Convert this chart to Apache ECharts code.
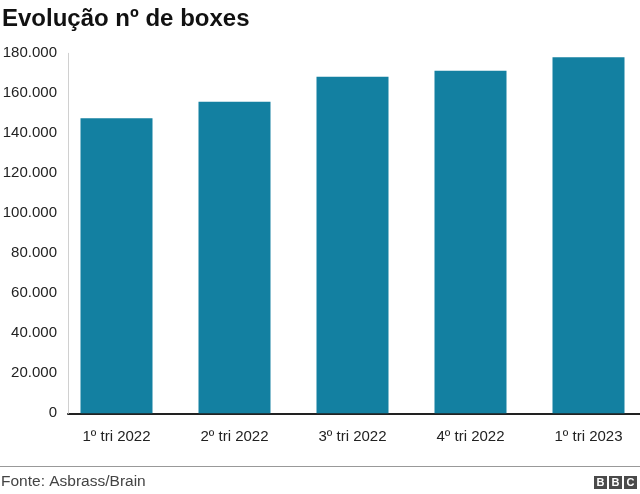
<!DOCTYPE html>
<html>
<head>
<meta charset="utf-8">
<script src="https://cdn.jsdelivr.net/npm/echarts@6/dist/echarts.min.js"></script>
<style>
html,body{margin:0;padding:0;background:#fff;}
#chart{width:640px;height:494px;}
</style>
</head>
<body>
<div id="chart"></div>
<script>
const titleText = 'Evolução nº de boxes';
const sourceText = 'Fonte: Asbrass/Brain';
const categories = ['1º tri 2022', '2º tri 2022', '3º tri 2022', '4º tri 2022', '1º tri 2023'];
const boxes = [147500, 155800, 168300, 171300, 178000];
const yMin = 0, yMax = 180000, yStep = 20000;

const FONT = '"Liberation Sans", Arial, Helvetica, sans-serif';
const fmt = v => String(v).replace(/\B(?=(\d{3})+(?!\d))/g, '.');

const chart = echarts.init(document.getElementById('chart'), null, {renderer: 'canvas'});
chart.setOption({
  animation: false,
  backgroundColor: '#fff',
  title: {
    text: titleText, left: 2, top: 7, padding: 0,
    textStyle: {fontFamily: FONT, fontSize: 24, fontWeight: 'bold', color: '#111'}
  },
  grid: [
    {left: 57.5, width: 590, top: 53.3, bottom: 80.7, outerBoundsMode: 'none', containLabel: false},
    {left: 68, right: 0, top: 53.3, bottom: 80.7, outerBoundsMode: 'none', containLabel: false}
  ],
  xAxis: [
    {
      type: 'category', gridIndex: 0, data: categories,
      axisLine: {show: false}, axisTick: {show: false},
      axisLabel: {margin: 16, fontFamily: FONT, fontSize: 15, color: '#222'}
    },
    {
      type: 'value', gridIndex: 1, min: 0, max: 1,
      axisLine: {show: true, lineStyle: {color: '#222', width: 2}},
      axisTick: {show: false}, axisLabel: {show: false}, splitLine: {show: false}
    }
  ],
  yAxis: [
    {type: 'value', gridIndex: 0, min: yMin, max: yMax, interval: yStep, show: false},
    {
      type: 'value', gridIndex: 1, min: yMin, max: yMax, interval: yStep, z: 1,
      axisLine: {show: true, lineStyle: {color: '#d0d0d0', width: 1}},
      axisTick: {show: false}, splitLine: {show: false},
      axisLabel: {margin: 11, fontFamily: FONT, fontSize: 15, color: '#222', formatter: fmt}
    }
  ],
  series: [{
    type: 'bar', xAxisIndex: 0, yAxisIndex: 0, data: boxes,
    barWidth: 72, itemStyle: {color: '#1380A1'}, z: 2
  }],
  graphic: [
    {type: 'line', shape: {x1: 0, y1: 466.5, x2: 640, y2: 466.5}, style: {stroke: '#999', lineWidth: 1}, z: 10},
    {type: 'text', left: 1, top: 474, style: {text: sourceText, font: '15.5px ' + FONT, fill: '#444'}, z: 10},
    {type: 'group', right: 3, top: 476, children: [
      {type: 'rect', shape: {x: 0, y: 0, width: 13, height: 13}, style: {fill: '#4a4a4a'}},
      {type: 'rect', shape: {x: 15, y: 0, width: 13, height: 13}, style: {fill: '#4a4a4a'}},
      {type: 'rect', shape: {x: 30, y: 0, width: 13, height: 13}, style: {fill: '#4a4a4a'}},
      {type: 'text', x: 6.5, y: 7, style: {text: 'B', font: 'bold 11px ' + FONT, fill: '#fff', align: 'center', verticalAlign: 'middle'}},
      {type: 'text', x: 21.5, y: 7, style: {text: 'B', font: 'bold 11px ' + FONT, fill: '#fff', align: 'center', verticalAlign: 'middle'}},
      {type: 'text', x: 36.5, y: 7, style: {text: 'C', font: 'bold 11px ' + FONT, fill: '#fff', align: 'center', verticalAlign: 'middle'}}
    ]}
  ]
});
</script>
</body>
</html>
